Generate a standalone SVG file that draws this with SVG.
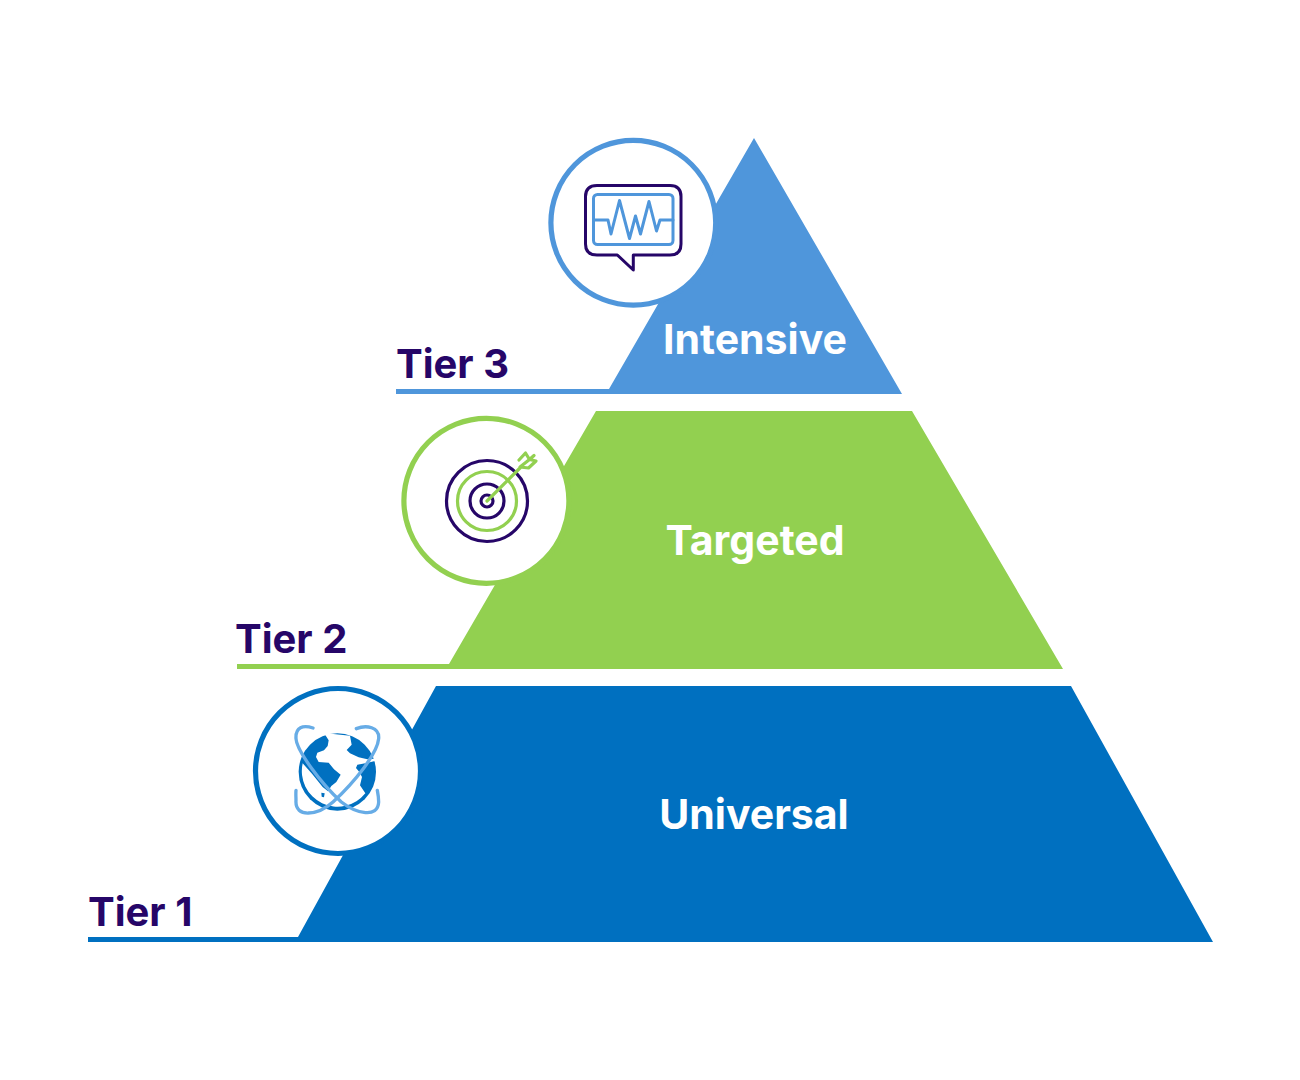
<svg xmlns="http://www.w3.org/2000/svg" width="1300" height="1080" viewBox="0 0 1300 1080">
<style>
.tier{font-family:Inter,"Liberation Sans",sans-serif;font-weight:700;font-size:40px;fill:#260668}
.name{font-family:Inter,"Liberation Sans",sans-serif;font-weight:700;font-size:41px;fill:#fff;text-anchor:middle}
.disc{fill:#fff;stroke-width:5.2}
.ln{fill:none;stroke-linejoin:round;stroke-linecap:round}
.c3{stroke:#4f96db}.c2{stroke:#92d050}.c1{stroke:#0070c0}.p{stroke:#260668}
</style>
<rect width="1300" height="1080" fill="#fff"/>
<g id="tier3">
<path d="M754,138 L902,394 H396 V389 H609 Z" fill="#4f96db"/>
<text class="tier" x="396" y="378">Tier 3</text>
<text class="name" x="755" y="354">Intensive</text>
<circle class="disc c3" cx="633.3" cy="222.8" r="82.4"/>
<path class="ln p" stroke-width="3" d="M597,185.5 H670 Q681,185.5 681,196.5 V244 Q681,255 670,255 H633.3 V270 L617.3,255 H597 Q585.5,255 585.5,244 V196.5 Q585.5,185.5 597,185.5 Z"/>
<rect class="ln c3" stroke-width="3" x="593.5" y="194.5" width="79.5" height="50" rx="4"/>
<path class="ln c3" stroke-width="3" d="M594,220 H608 L611,234 L619.5,200.5 L629.5,238.5 L635.5,216 L640.5,234 L649,201.5 L656.5,231 L660,220 H673"/>
</g>
<g id="tier2">
<path d="M596,411 H912 L1063,669 H237 V664 H449 Z" fill="#92d050"/>
<text class="tier" x="235" y="653">Tier 2</text>
<text class="name" x="755" y="555">Targeted</text>
<circle class="disc c2" cx="486.4" cy="500.8" r="82.5"/>
<circle class="ln p" stroke-width="3.2" cx="487" cy="501" r="40.5"/>
<circle class="ln c2" stroke-width="3.2" cx="487" cy="501" r="29.5"/>
<circle class="ln p" stroke-width="3.2" cx="487" cy="501" r="17"/>
<circle class="ln p" stroke-width="3.2" cx="487" cy="501" r="6"/>
<path class="ln c2" stroke-width="3.2" d="M487,501 L521,467 M519,460 L525.5,453 L529.5,459.5 L534,455.5 M529.5,459.5 L536,461 L528.5,468 L520,467 Z"/>
</g>
<g id="tier1">
<path d="M436,686 H1071 L1213,942 H88 V937 H298 Z" fill="#0070c0"/>
<text class="tier" x="88" y="926">Tier 1</text>
<text class="name" x="754" y="829">Universal</text>
<circle class="disc c1" cx="338" cy="771" r="82.5"/>
<g transform="translate(288,722) scale(.33333)">
<circle cx="148" cy="150" r="116" fill="#0070c0"/>
<path fill="#fff" d="M108,33 L122,55 119,72 108,85 88,92 84,105 92,120 122,122 138,142 158,158 145,180 130,192 120,208 104,195 72,155 44,124 A107,107 0 0 0 232,214 L216,190 222,165 214,150 204,138 208,128 240,122 258,118 267,118 260,110 238,112 212,106 186,94 176,84 191,68 186,41 Z"/>
<path fill="#0070c0" d="M100,212 L110,214 108,226 101,224 Z"/>
<path class="ln" fill="none" stroke="#67ace6" stroke-width="10" d="M75,18 C45,8 22,15 24,50 C26,85 95,180 160,240 C205,275 270,290 272,240 C272,225 270,215 268,205"/>
<path class="ln" fill="none" stroke="#67ace6" stroke-width="10" d="M205,20 C235,8 275,15 272,50 C268,95 200,180 135,240 C90,280 20,290 24,235 C24,225 23,215 24,205"/>
</g>
</g>
<g id="connectors"></g>
</svg>
